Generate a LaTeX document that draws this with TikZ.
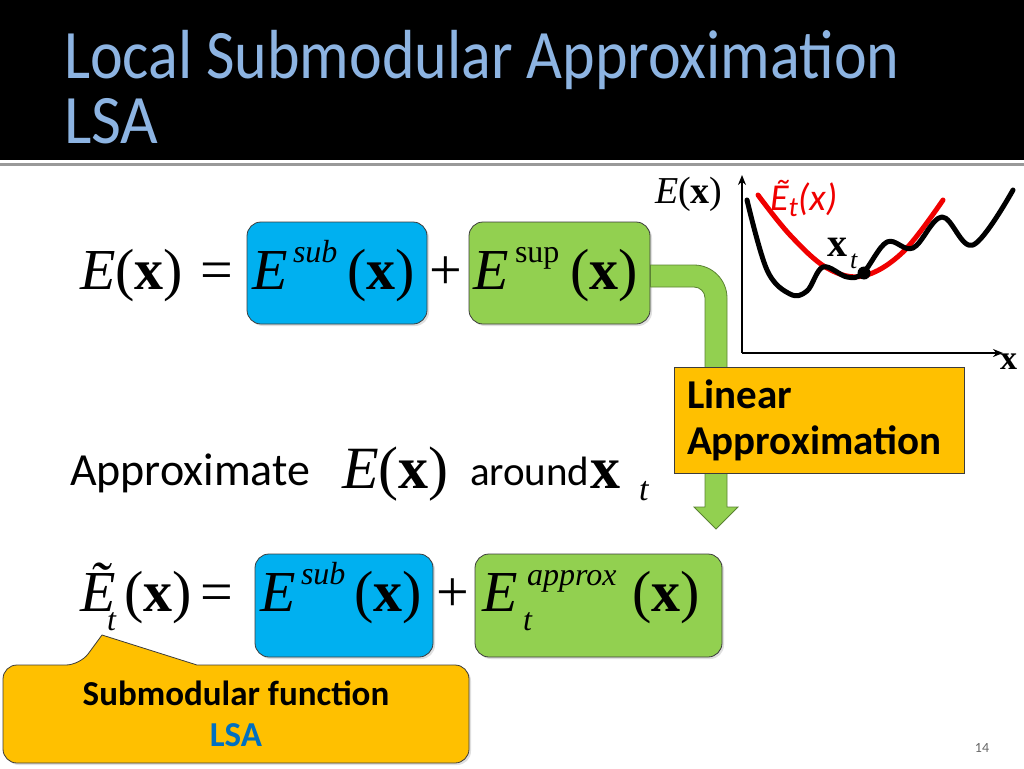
\documentclass[tikz,border=0pt]{standalone}
\usepackage{fontspec}
\setmainfont{Carlito}
\newfontfamily\tnr{Liberation Serif}
\usetikzlibrary{arrows.meta,shadows,calc}
\definecolor{titleblue}{RGB}{141,180,226}
\definecolor{boxblue}{RGB}{0,176,240}
\definecolor{boxgreen}{RGB}{146,208,80}
\definecolor{boxorange}{RGB}{255,192,0}
\definecolor{lsablue}{RGB}{0,112,192}
\definecolor{curvered}{RGB}{240,0,0}
\definecolor{borderdark}{RGB}{60,60,60}
\definecolor{greenborder}{RGB}{90,130,50}
\newcommand{\fs}[1]{\fontsize{#1}{#1}\selectfont}
\newcommand{\mE}{{\tnr\itshape E}}
\newcommand{\mX}{{\tnr\bfseries x}}
\newcommand{\mPX}{{\tnr(}\mX{\tnr)}}
\tikzset{
  txt/.style={inner sep=0pt, outer sep=0pt, anchor=base west},
  mbox/.style={rectangle, rounded corners=14pt, line width=0.8pt, draw=borderdark,
     drop shadow={shadow xshift=2pt, shadow yshift=-2pt, opacity=0.25}},
  bluebox/.style={mbox, fill=boxblue},
  greenbox/.style={mbox, fill=boxgreen},
  orbox/.style={rectangle, fill=boxorange, draw=borderdark, line width=0.8pt},
  curve/.style={line width=5pt, line cap=round, line join=round},
}
\begin{document}
\begin{tikzpicture}[x=1pt, y=-1pt]
\useasboundingbox (0,0) rectangle (1024,768);
% header
\fill[black] (0,0) rectangle (1024,160);
\fill[black!40] (0,162.5) rectangle (1024,166);
\node[txt, text=titleblue] (t1) at (64,78) {\scalebox{1}[1.12]{\fs{62}Local Submodular Approximation}};
\node[txt, text=titleblue] (t2) at (64,143) {\scalebox{1.05}[1.12]{\fs{62}LSA}};

% top equation
\node[bluebox, minimum width=180pt, minimum height=102pt] (sub1) at (337,273) {};
\node[greenbox, minimum width=181pt, minimum height=102pt] (sup1) at (559.5,273) {};
\node[txt] (e1) at (80,289) {\fs{58}\mE\mPX};
\node[txt] (eq1) at (200,289) {\fs{58}\tnr =};
\node[txt] (e1a) at (252,289) {\fs{58}\mE};
\node[txt] (e1b) at (293,262) {\fs{32}\tnr\itshape sub};
\node[txt] (e1c) at (347,289) {\fs{58}\mPX};
\node[txt] (pl1) at (429,289) {\fs{58}\tnr +};
\node[txt] (e2a) at (473,289) {\fs{58}\mE};
\node[txt] (e2b) at (515,262) {\fs{32}\tnr sup};
\node[txt] (e2c) at (570,289) {\fs{58}\mPX};

% green bent arrow
\coordinate (p0) at (sup1.east);
\draw[fill=boxgreen, draw=greenborder, line width=0.8pt]
  ($(p0)+(0,-8)$) -- (694,265) arc[start angle=-90, end angle=0, radius=33]
  -- (727,507) -- (738,507) -- (716,529) -- (694,507) -- (705,507)
  -- (705,298) arc[start angle=0, end angle=-90, radius=11] -- ($(p0)+(0,14)$) -- cycle;

% linear approximation box
\node[orbox, minimum width=290pt, minimum height=106pt] (lin) at (819,420) {};
\node[txt] (lin1) at (687,408) {\fs{41}\bfseries Linear};
\node[txt] (lin2) at (687,454) {\fs{41}\bfseries Approximation};

% middle line
\node[txt] (ap) at (70,485) {\fs{46}Approximate};
\node[txt] (ap2) at (342,488) {\fs{60}\mE\mPX};
\node[txt] (ap3) at (470,485) {\fs{41}around};
\node[txt] (ap4) at (590,488) {\fs{60}\mX};
\node[txt] (ap5) at (639,500) {\fs{34}\tnr\itshape t};

% bottom equation
\node[bluebox, minimum width=178pt, minimum height=103pt] (sub2) at (344,605.5) {};
\node[greenbox, minimum width=247pt, minimum height=103pt] (apx) at (598.5,605.5) {};
\node[txt] (b1) at (80,611) {\fs{58}\tnr\itshape Ẽ};
\node[txt] (b1t) at (107,630) {\fs{32}\tnr\itshape t};
\node[txt] (b1x) at (124,611) {\fs{58}\mPX};
\node[txt] (beq) at (200,611) {\fs{58}\tnr =};
\node[txt] (b2a) at (260,611) {\fs{58}\mE};
\node[txt] (b2b) at (301,584) {\fs{32}\tnr\itshape sub};
\node[txt] (b2c) at (354,611) {\fs{58}\mPX};
\node[txt] (bpl) at (436,611) {\fs{58}\tnr +};
\node[txt] (b3a) at (482,611) {\fs{58}\mE};
\node[txt] (b3b) at (527,585) {\fs{32}\tnr\itshape approx};
\node[txt] (b3t) at (523,630) {\fs{32}\tnr\itshape t};
\node[txt] (b3c) at (632,611) {\fs{58}\mPX};

% callout
\draw[fill=boxorange, draw=borderdark, line width=0.8pt,
  drop shadow={shadow xshift=2pt, shadow yshift=-2pt, opacity=0.25}]
  (3,714) [rounded corners=14pt] -- (3,665) -- (80,665) [sharp corners] -- (102,635) -- (197,665)
  [rounded corners=14pt] -- (469,665) -- (469,763) -- (3,763) -- cycle;
\node[inner sep=0pt, anchor=base] (c1) at (236,705) {\fs{35}\bfseries Submodular function};
\node[inner sep=0pt, anchor=base, text=lsablue] (c2) at (236,746) {\fs{35}\bfseries LSA};

% graph
\coordinate (o) at (742,353);
\draw[line width=1.6pt, -{Stealth[length=10pt, width=8pt]}] (o) -- (742,175);
\draw[line width=1.6pt, -{Stealth[length=10pt, width=8pt]}] (o) -- (1003,353);
\node[txt] (gx) at (1000,369) {\fs{34}\mX};
\node[txt] (gy) at (655,203) {\fs{38}\mE\mPX};
\draw[curve, curvered] plot[smooth, tension=0.6] coordinates {
  (758,195) (790,235) (827,268) (863,276) (903,252) (943,200)};
\draw[curve, black] plot[smooth, tension=0.6] coordinates {
  (747,200) (767,270) (790,294) (807,291) (823,267) (847,277) (863,273)
  (887,242) (913,248) (942,217) (973,245) (1013,190)};
\node[circle, fill=black, inner sep=0pt, minimum size=13pt] (xt) at (864,273) {};
\node[txt, text=curvered] (gl) at (770,210) {\fs{38}\itshape Ẽ\raisebox{-6pt}{\fs{28}t}(x)};
\node[txt] (gxt) at (827,256) {\fs{40}\mX};
\node[txt] (gxt2) at (850,268) {\fs{26}\tnr\itshape t};

% page number
\node[text=black!60] (pg) at (982,748) {\fs{14}14};
\end{tikzpicture}
\end{document}
